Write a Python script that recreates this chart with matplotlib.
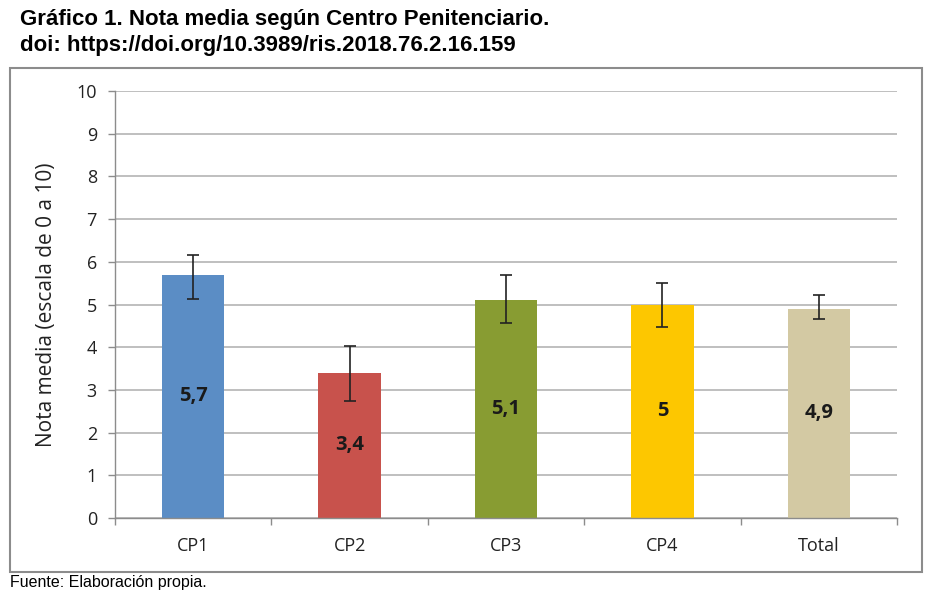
import numpy as np
import matplotlib.pyplot as plt
from matplotlib.patches import Rectangle

categorias = ['CP1', 'CP2', 'CP3', 'CP4', 'Total']
medias = [5.7, 3.4, 5.1, 5.0, 4.9]
err_inf = [5.12, 2.75, 4.56, 4.48, 4.65]
err_sup = [6.16, 4.02, 5.68, 5.51, 5.22]
etiquetas = ['5,7', '3,4', '5,1', '5', '4,9']
colores = ['#5B8DC5', '#C8524C', '#889C32', '#FDC700', '#D3C9A3']

plt.rcParams['font.family'] = ['Open Sans', 'DejaVu Sans']

fig = plt.figure(figsize=(9.43, 5.98), dpi=100)
ax = fig.add_axes([115 / 943, 1 - 518 / 598, 782 / 943, 427 / 598])

x = np.arange(len(categorias))
yerr = [np.array(medias) - np.array(err_inf), np.array(err_sup) - np.array(medias)]
ax.bar(x, medias, width=0.4, color=colores, zorder=2)
ax.errorbar(x, medias, yerr=yerr, fmt='none', ecolor='#222222', elinewidth=1.2,
            capsize=4, capthick=1.2, zorder=3)
for xi, v, t in zip(x, medias, etiquetas):
    ax.text(xi, v / 2, t, ha='center', va='center', fontsize=14.5,
            fontweight='bold', color='#1a1a1a', zorder=4)

ax.set_xlim(-0.5, len(categorias) - 0.5)
ax.set_ylim(0, 10)
ax.set_yticks(range(0, 11))
ax.yaxis.grid(True, color='#B4B4B4', linewidth=1.2, zorder=0)
ax.set_axisbelow(True)
ax.set_xticks(x)
ax.set_xticklabels(categorias)
ax.set_xticks(np.arange(-0.5, len(categorias)), minor=True)
ax.tick_params(axis='x', which='major', length=0, pad=14, labelsize=13, colors='#222222')
ax.tick_params(axis='x', which='minor', length=5, color='#8C8C8C', width=1)
ax.tick_params(axis='y', length=5, width=1, labelsize=13, colors='#8C8C8C',
               labelcolor='#222222', pad=8)
for s in ['top', 'right']:
    ax.spines[s].set_visible(False)
for s in ['left', 'bottom']:
    ax.spines[s].set_color('#8C8C8C')
    ax.spines[s].set_linewidth(1)
ax.set_ylabel('Nota media (escala de 0 a 10)', fontsize=15, color='#222222', labelpad=14)

# marco del gráfico
fig.patches.append(Rectangle((10 / 943, 1 - 572 / 598), 912 / 943, 504 / 598,
                             transform=fig.transFigure, fill=False,
                             edgecolor='#8C8C8C', linewidth=1.5))

fig.text(20 / 943, 1 - 20 / 598, 'Gráfico 1. Nota media según Centro Penitenciario.',
         fontsize=16, fontweight='bold', family='Liberation Sans', va='center')
fig.text(20 / 943, 1 - 45 / 598, 'doi: https://doi.org/10.3989/ris.2018.76.2.16.159',
         fontsize=16, fontweight='bold', family='Liberation Sans', va='center')
fig.text(10 / 943, 1 - 582 / 598, 'Fuente: Elaboración propia.', fontsize=11.5,
         family='Liberation Sans', va='center')

fig.savefig('out.png', dpi=100)
